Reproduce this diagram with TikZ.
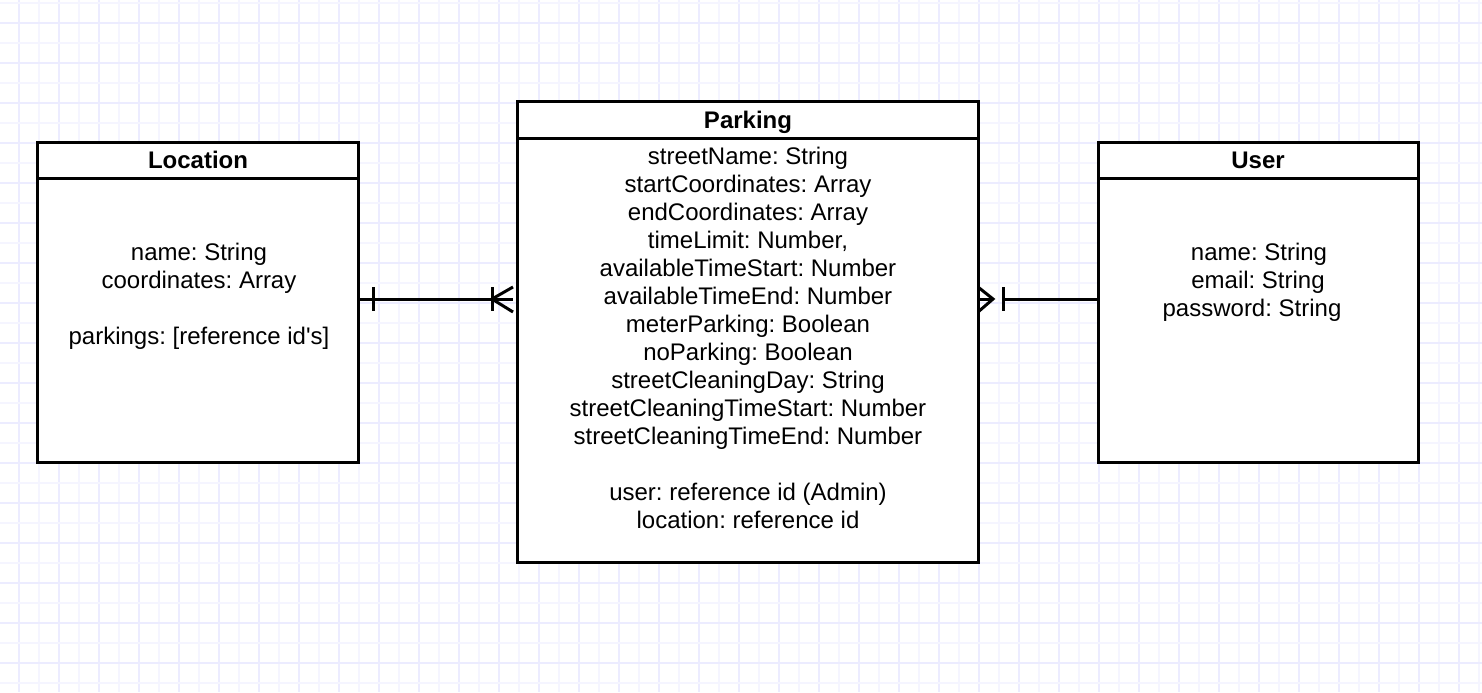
\documentclass[tikz,border=0pt]{standalone}
\usepackage{fontspec}
\setmainfont{Liberation Sans}
\definecolor{gridlight}{HTML}{F5F5FF}
\definecolor{griddark}{HTML}{ECECFF}
\frenchspacing
\begin{document}
\frenchspacing
\begin{tikzpicture}[x=0.5pt,y=-0.5pt,
  entity/.style={draw=black, line width=1.5pt, fill=white, rectangle, inner sep=0pt, outer sep=0pt},
  txt/.style={font=\fontsize{12}{14}\selectfont, anchor=base, inner sep=0pt},
  hdr/.style={txt, font=\fontsize{12}{14}\selectfont\bfseries},
  conn/.style={line width=1.5pt, black}]
\useasboundingbox (0,0) rectangle (1482,692);
\fill[white] (0,0) rectangle (1482,692);
% grid
\foreach \i in {0,...,36} {
  \draw[gridlight, line width=1pt] ({39+40*\i},0) -- ++(0,692);
  \draw[griddark, line width=1pt] ({19+40*\i},0) -- ++(0,692);
}
\foreach \i in {0,...,17} {
  \draw[gridlight, line width=1pt] (0,{3+40*\i}) -- ++(1482,0);
  \draw[griddark, line width=1pt] (0,{23+40*\i}) -- ++(1482,0);
}
% entities
\node[entity, minimum width=160.5pt, minimum height=160pt] (loc) at (197.5,302) {};
\node[entity, minimum width=230.5pt, minimum height=230.5pt] (park) at (747.5,331.5) {};
\node[entity, minimum width=160pt, minimum height=160pt] (user) at (1258,302) {};
\draw[conn] (loc.north west) ++(0,36) -- ++(321,0);
\draw[conn] (park.north west) ++(0,37) -- ++(461,0);
\draw[conn] (user.north west) ++(0,36) -- ++(320,0);
% headers
\node[hdr] (lh) at (198,168.5) {Location};
\node[hdr] (ph) at (748,128.5) {Parking};
\node[hdr] (uh) at (1258,168.5) {User};
% Location body
\node[txt] (l1) at (199,260.5) {name: String};
\node[txt] (l2) at (199,288.5) {coordinates: Array};
\node[txt] (l3) at (199,344.5) {parkings: [reference id\textquotesingle s]};
% Parking body
\node[txt] (p1) at (748,164.5) {streetName: String};
\node[txt] (p2) at (748,192.5) {startCoordinates: Array};
\node[txt] (p3) at (748,220.5) {endCoordinates: Array};
\node[txt] (p4) at (748,248.5) {timeLimit: Number,};
\node[txt] (p5) at (748,276.5) {availableTimeStart: Number};
\node[txt] (p6) at (748,304.5) {availableTimeEnd: Number};
\node[txt] (p7) at (748,332.5) {meterParking: Boolean};
\node[txt] (p8) at (748,360.5) {noParking: Boolean};
\node[txt] (p9) at (748,388.5) {streetCleaningDay: String};
\node[txt] (p10) at (748,416.5) {streetCleaningTimeStart: Number};
\node[txt] (p11) at (748,444.5) {streetCleaningTimeEnd: Number};
\node[txt] (p12) at (748,500.5) {user: reference id (Admin)};
\node[txt] (p13) at (748,528.5) {location: reference id};
% User body
\node[txt] (u1) at (1259,260.5) {name: String};
\node[txt] (u2) at (1258,288.5) {email: String};
\node[txt] (u3) at (1252,316.5) {password: String};
% connectors
\coordinate (a) at ([yshift=1.5pt]loc.east);
\coordinate (b) at (a -| park.west);
\coordinate (c) at (a -| park.east);
\coordinate (d) at (a -| user.west);
\draw[conn] (a) -- ([xshift=-2pt]b);
\draw[conn] (a) ++(15,-12) -- ++(0,24);
\draw[conn] (b) ++(-25,-12) -- ++(0,24);
\draw[conn] ([xshift=-2pt]b) ++(0,-12) -- ([xshift=-12.5pt]b) -- ([xshift=-2pt,yshift=-6.5pt]b);
\draw[conn] (d) -- ([xshift=12.5pt]c);
\draw[conn] (c) ++(25,-12) -- ++(0,24);
\draw[conn] ([yshift=6pt]c) -- ([xshift=7.5pt]c) -- ([yshift=-6.5pt]c);
\draw[conn] (c) -- ([xshift=7.5pt]c);
\end{tikzpicture}
\end{document}
